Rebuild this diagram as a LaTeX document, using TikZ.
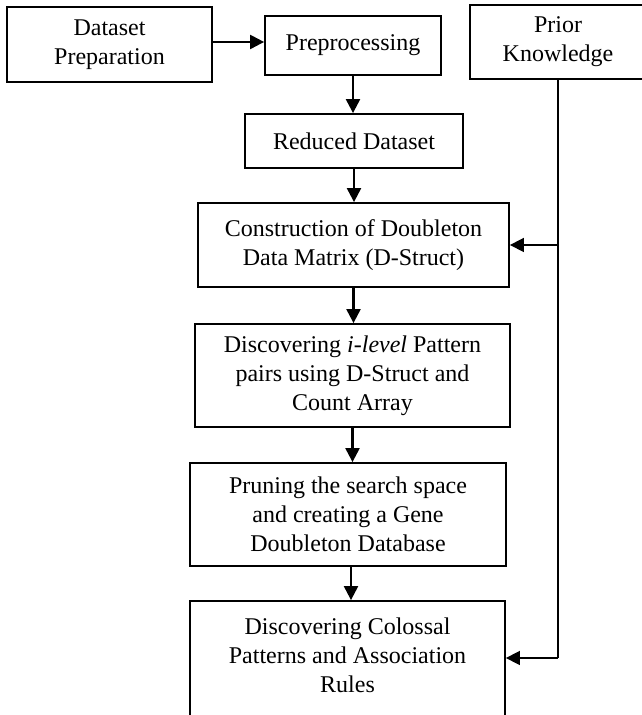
\documentclass[tikz,border=0pt]{standalone}
\usepackage{fontspec}
\setmainfont{Liberation Serif}
\usetikzlibrary{arrows.meta}
\tikzset{
  stage/.style = {rectangle, draw=black, align=center, inner sep=0pt,
    font=\fontsize{12}{14.5}\selectfont, line width=0.9pt},% boite d'etape
  link/.style = {line width=1.1pt},% fleche entre etapes
  feed/.style = {line width=0.8pt}% ligne de la connaissance a priori
}

\begin{document}
\begin{tikzpicture}[->,>={Triangle[length=7pt,width=7pt]},x=1pt,y=1pt]
\useasboundingbox (0,0) rectangle (320.5,357.5);
\node [stage, minimum width=102.5pt, minimum height=37.5pt] (dataprep) at (54.75,335.25) {Dataset\\Preparation};
\node [stage, minimum width=88pt, minimum height=29.5pt] (preproc) at (176.5,334.75) {Preprocessing};
\node [stage, minimum width=88pt, minimum height=37pt] (prior) at (279,336.5) {Prior\\Knowledge};
\node [stage, minimum width=109pt, minimum height=27pt] (reduced) at (177,287) {Reduced Dataset};
\node [stage, minimum width=155.5pt, minimum height=42pt] (construct) at (176.75,235) {Construction of Doubleton\\Data Matrix (D-Struct)};
\node [stage, minimum width=157.5pt, minimum height=51.5pt] (ilevel) at (176.25,169.75) {Discovering \textit{i-level} Pattern\\pairs using D-Struct and\\Count Array};
\node [stage, minimum width=158pt, minimum height=51.5pt] (prune) at (174,100.25) {Pruning the search space\\and creating a Gene\\Doubleton Database};
\node [stage, minimum width=157.5pt, minimum height=68.5pt] (colossal) at (173.75,22.75) {Discovering Colossal\\Patterns and Association\\Rules\\~};
\coordinate (knee) at (279,28.5);

% main chain
\draw [link] (dataprep.east |- 0,336.5) -- (preproc.west |- 0,336.5);
\draw [link] (preproc.south) -- (preproc.south |- reduced.north);
\draw [link] (reduced.south) -- (reduced.south |- construct.north);
\draw [link] (construct.south) -- (construct.south |- ilevel.north);
\draw [link] (ilevel.south) -- (ilevel.south |- prune.north);
\draw [link] (prune.south -| 175.5,0) -- (colossal.north -| 175.5,0);

% prior knowledge
\draw [feed, -] (prior.south) -- (knee);
\draw [feed] (knee) -- (knee -| colossal.east);
\draw [feed] (prior.south |- construct.east) -- (construct.east);
\end{tikzpicture}
\end{document}
